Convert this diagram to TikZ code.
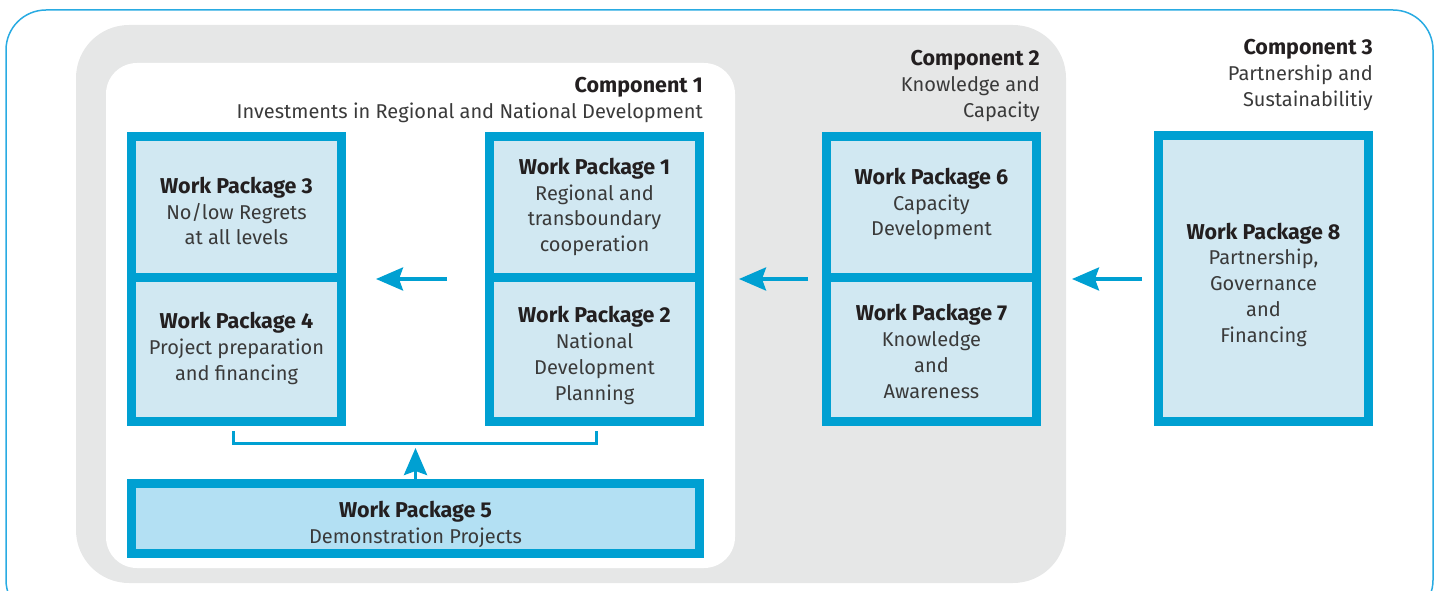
\documentclass[tikz,border=0pt]{standalone}
\usepackage{fontspec}
\setmainfont{Fira Sans}
\usetikzlibrary{arrows.meta,calc}
\definecolor{wpblue}{HTML}{00A0D2}
\definecolor{wpfill}{HTML}{D1E8F2}
\definecolor{wpfilldark}{HTML}{B3E0F3}
\definecolor{greybg}{HTML}{E6E7E7}
\definecolor{frameblue}{HTML}{29ABE2}
\definecolor{txt}{HTML}{3A3A3A}
\definecolor{hdr}{HTML}{231F20}
\newcommand\hdtext[1]{{\color{hdr}\fontsize{21.5}{25.8}\selectfont\bfseries #1}}
\begin{document}
\begin{tikzpicture}[x=1pt,y=-1pt,
  wpbox/.style={draw=wpblue, line width=9pt, fill=wpfill, minimum width=210pt, inner sep=0pt},
  wptext/.style={align=center, text=txt, inner sep=0pt, font=\fontsize{20}{25.8}\selectfont},
  flow/.style={draw=wpblue, line width=3.5pt, -{Stealth[length=27pt,width=23pt,inset=4pt]}},
  bracket/.style={draw=wpblue, line width=3pt},
  comp/.style={anchor=base east, align=right, text=txt, font=\fontsize{20}{26}\selectfont, inner sep=0pt}
]
\useasboundingbox (0,0) rectangle (1440,591);
\begin{scope}
\clip (0,0) rectangle (1440,591);
\draw[frameblue, line width=1.5pt, rounded corners=40pt] (6,10) rectangle (1433,620);
\end{scope}
\fill[greybg, rounded corners=53pt] (76,25) rectangle (1066,583);
\fill[white, rounded corners=31pt] (106,63) rectangle (735,568);

\node[comp] (c1) at (703,119) {\hdtext{Component 1}\\Investments in Regional and National Development};
\node[comp] (c2) at (1040,118) {\hdtext{Component 2}\\Knowledge and\\Capacity};
\node[comp] (c3) at (1373,107) {\hdtext{Component 3}\\Partnership and\\Sustainabilitiy};

\node[wpbox, minimum height=141pt] (wp3) at (236.5,207) {};
\node[wpbox, minimum height=144pt] (wp4) at (236.5,349.5) {};
\node[wpbox, minimum height=141pt] (wp1) at (594.5,207) {};
\node[wpbox, minimum height=144pt] (wp2) at (594.5,349.5) {};
\node[wpbox, minimum height=141pt] (wp6) at (931.5,207) {};
\node[wpbox, minimum height=144pt] (wp7) at (931.5,349.5) {};
\node[wpbox, minimum height=285.5pt] (wp8) at (1263.5,278.75) {};
\node[wpbox, fill=wpfilldark, minimum width=568pt, minimum height=70pt] (wp5) at (415.5,518.5) {};

\node[wptext] (t3) at ($(wp3)+(0,4)$) {\hdtext{Work Package 3}\\No/low Regrets\\at all levels};
\node[wptext] (t4) at ($(wp4)+(0,-1)$) {\hdtext{Work Package 4}\\Project preparation\\and financing};
\node[wptext] (t1) at ($(wp1)+(0,0)$) {\hdtext{Work Package 1}\\Regional and\\transboundary\\cooperation};
\node[wptext] (t2) at ($(wp2)+(0,6)$) {\hdtext{Work Package 2}\\National\\Development\\Planning};
\node[wptext] (t6) at ($(wp6)+(0,-3)$) {\hdtext{Work Package 6}\\Capacity\\Development};
\node[wptext] (t7) at ($(wp7)+(0,2)$) {\hdtext{Work Package 7}\\Knowledge\\and\\Awareness};
\node[wptext] (t8) at ($(wp8)+(0,6)$) {\hdtext{Work Package 8}\\Partnership,\\Governance\\and\\Financing};
\node[wptext] (t5) at ($(wp5)+(0,6)$) {\hdtext{Work Package 5}\\Demonstration Projects};

\coordinate (b1) at (233,431);
\coordinate (b2) at (233,443);
\coordinate (b3) at (596,443);
\coordinate (b4) at (596,431);
\draw[bracket] (b1) -- (b2) -- (b3) -- (b4);
\coordinate (up) at (415.5,448);
\draw[flow] (wp5.north) -- (up);

\coordinate (a1s) at (447,279);
\coordinate (a1e) at (376,279);
\coordinate (a2s) at (808,279);
\coordinate (a2e) at (739,279);
\coordinate (a3s) at (1142,279);
\coordinate (a3e) at (1072,279);
\draw[flow] (a1s) -- (a1e);
\draw[flow] (a2s) -- (a2e);
\draw[flow] (a3s) -- (a3e);
\end{tikzpicture}
\end{document}
